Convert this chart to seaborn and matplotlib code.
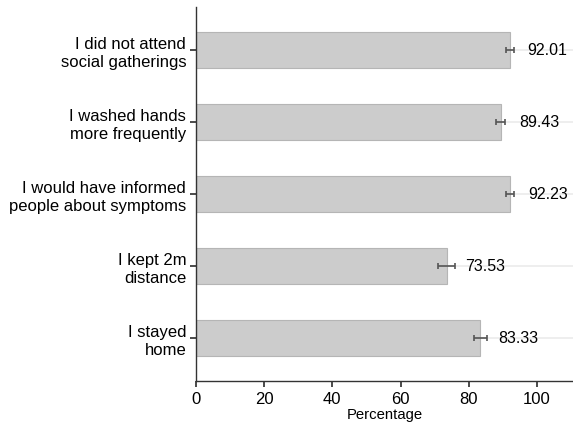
import numpy as np
import pandas as pd
import matplotlib
matplotlib.use("Agg")
import matplotlib.pyplot as plt
import seaborn as sns

# dati
categorie = ["I did not attend\nsocial gatherings",
             "I washed hands\nmore frequently",
             "I would have informed\npeople about symptoms",
             "I kept 2m\ndistance",
             "I stayed\nhome"]
percentuali = [92.01, 89.43, 92.23, 73.53, 83.33]
errori = [1.2, 1.3, 1.2, 2.4, 1.9]

sns.set_theme(style="white")
plt.rcParams["font.family"] = ["Liberation Sans", "DejaVu Sans"]
plt.rcParams["text.color"] = "black"
plt.rcParams["xtick.color"] = "black"
plt.rcParams["ytick.color"] = "black"
plt.rcParams["axes.labelcolor"] = "black"

df = pd.DataFrame({"categoria": categorie, "perc": percentuali})

fig, ax = plt.subplots(figsize=(5.73, 4.27), dpi=100)
fig.subplots_adjust(left=0.342, right=1.0, top=0.982, bottom=0.105)

# righe orizzontali leggere dietro le barre
for i in range(len(categorie)):
    ax.axhline(i, color="#ebebeb", lw=1.2, zorder=0)

sns.barplot(data=df, x="perc", y="categoria", orient="h", color="#cccccc",
            edgecolor="#b5b5b5", linewidth=0.8, width=0.49, saturation=1,
            errorbar=None, ax=ax, zorder=2)

ax.errorbar(percentuali, range(len(categorie)), xerr=errori, fmt="none",
            ecolor="#555555", elinewidth=1.2, capsize=2.5, capthick=1.2, zorder=3)

for i, v in enumerate(percentuali):
    ax.text(v + 5.3, i, f"{v:.2f}", va="center", ha="left", fontsize=11.5, color="black")

ax.set_xlim(0, 110.6)
ax.set_ylim(4.6, -0.6)
ax.set_xticks([0, 20, 40, 60, 80, 100])
ax.set_xlabel("Percentage", fontsize=10.7, labelpad=1)
ax.set_ylabel("")
ax.tick_params(axis="x", labelsize=12, length=4, color="#333333", pad=3)
ax.tick_params(axis="y", labelsize=12, length=4, color="#333333", pad=3)
ax.tick_params(bottom=True, left=True)
for s in ["top", "right"]:
    ax.spines[s].set_visible(False)
for s in ["left", "bottom"]:
    ax.spines[s].set_color("#333333")
    ax.spines[s].set_linewidth(1)

plt.savefig("out.png", dpi=100)
